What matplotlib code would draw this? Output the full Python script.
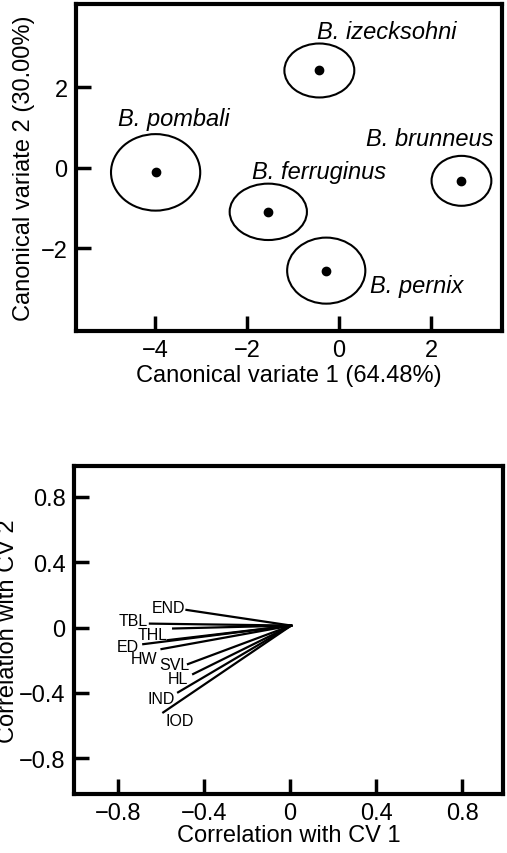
import matplotlib
matplotlib.use('Agg')
from matplotlib import pyplot as plt
from matplotlib.patches import Ellipse

plt.rcParams['font.family'] = ['Liberation Sans', 'DejaVu Sans']

# canonical variate scores: centroids and ellipse half axes
species = ['B. izecksohni', 'B. pombali', 'B. ferruginus', 'B. pernix', 'B. brunneus']
cv1 = [-0.43, -3.99, -1.54, -0.28, 2.66]
cv2 = [2.42, -0.11, -1.09, -2.55, -0.32]
half_w = [0.76, 0.97, 0.84, 0.85, 0.65]
half_h = [0.67, 0.95, 0.70, 0.82, 0.62]
label_x = [1.04, -3.59, -0.43, 1.69, 1.98]
label_y = [3.38, 1.22, -0.10, -2.93, 0.72]

# correlations of variables with CV1 / CV2
variables = ['END', 'TBL', '', 'THL', 'ED', 'HW', 'SVL', 'HL', 'IND', 'IOD']
corr1 = [-0.482, -0.652, -0.544, -0.567, -0.683, -0.598, -0.475, -0.451, -0.521, -0.590]
corr2 = [0.108, 0.024, -0.006, -0.077, -0.102, -0.132, -0.224, -0.285, -0.397, -0.520]
var_lx = [-0.567, -0.730, 0, -0.641, -0.753, -0.680, -0.539, -0.521, -0.598, -0.513]
var_ly = [0.122, 0.045, 0, -0.045, -0.116, -0.188, -0.224, -0.312, -0.432, -0.567]
origin = (0.005, 0.012)

fig = plt.figure(figsize=(5.07, 8.54), dpi=100)


def style(ax):
    for s in ax.spines.values():
        s.set_linewidth(3)
    ax.tick_params(direction='in', length=11, width=2.5, labelsize=17, pad=6,
                   top=False, right=False)


# top: canonical variate plot
ax1 = fig.add_axes([0.150, 0.6112, 0.840, 0.3829])
for x, y, w, h in zip(cv1, cv2, half_w, half_h):
    ax1.add_patch(Ellipse((x, y), 2 * w, 2 * h, fill=False, lw=1.5, color='black'))
ax1.plot(cv1, cv2, 'o', color='black', markersize=6)
for name, x, y in zip(species, label_x, label_y):
    ax1.text(x, y, name, fontsize=17, style='italic', ha='center', va='center')
ax1.set_xlim(-5.72, 3.54)
ax1.set_ylim(-4.05, 4.07)
ax1.set_xticks([-4, -2, 0, 2])
ax1.set_yticks([-2, 0, 2])
ax1.set_xlabel('Canonical variate 1 (64.48%)', fontsize=17, labelpad=2)
ax1.set_ylabel('Canonical variate 2 (30.00%)', fontsize=17, labelpad=4)
style(ax1)

# bottom: correlation vectors
ax2 = fig.add_axes([0.146, 0.0691, 0.846, 0.3841])
for name, x, y, lx, ly in zip(variables, corr1, corr2, var_lx, var_ly):
    ax2.plot([origin[0], x], [origin[1], y], color='black', lw=1.6)
    if name:
        ax2.text(lx, ly, name, fontsize=11.5, ha='center', va='center')
ticks = [-0.8, -0.4, 0, 0.4, 0.8]
tick_labels = ['\u22120.8', '\u22120.4', '0', '0.4', '0.8']
ax2.set_xlim(-1.005, 0.99)
ax2.set_ylim(-1.02, 0.99)
ax2.set_xticks(ticks, tick_labels)
ax2.set_yticks(ticks, tick_labels)
ax2.set_xlabel('Correlation with CV 1', fontsize=17, labelpad=0)
ax2.set_ylabel('Correlation with CV 2', fontsize=17)
ax2.yaxis.set_label_coords(-0.128, 0.5)
style(ax2)

fig.savefig('out.png', dpi=100)
